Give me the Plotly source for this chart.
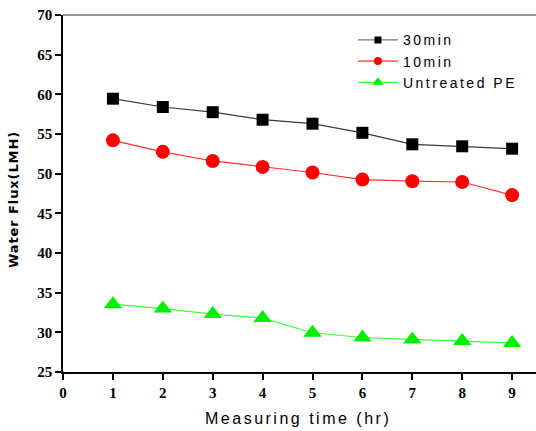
import plotly.graph_objects as go

hours = [1, 2, 3, 4, 5, 6, 7, 8, 9]
flux_30min = [59.45, 58.4, 57.75, 56.8, 56.3, 55.15, 53.7, 53.45, 53.15]
flux_10min = [54.2, 52.75, 51.6, 50.85, 50.15, 49.25, 49.05, 48.95, 47.3]
flux_untreated = [33.55, 33.0, 32.3, 31.8, 29.95, 29.35, 29.1, 28.9, 28.65]
series_names = ["30min", "10min", "Untreated PE"]
x_ticks = [0, 1, 2, 3, 4, 5, 6, 7, 8, 9]
y_ticks = [25, 30, 35, 40, 45, 50, 55, 60, 65, 70]

W, H = 536, 431
L, R, T, B = 63, 0, 15, 59


def spaced(s, px):
    return '<span style="letter-spacing:%spx">%s</span>' % (px, s)


styles = [
    dict(line="#3a3a3a", sym="square", size=12, legsize=7, color="black", legline="#777777"),
    dict(line="#ff3030", sym="circle", size=14, legsize=8, color="#ff0000", legline="#ff3030"),
    dict(line="#40ff40", sym="triangle-up", size=16, legsize=10, color="#00ee00", legline="#40ff40"),
]
values = [flux_30min, flux_10min, flux_untreated]

fig = go.Figure()
for name, vals, st in zip(series_names, values, styles):
    fig.add_trace(go.Scatter(
        x=hours, y=vals, name=name, mode="lines+markers", showlegend=False,
        line=dict(color=st["line"], width=1.2),
        marker=dict(symbol=st["sym"], size=st["size"], color=st["color"]),
    ))
for name, st in zip(series_names, styles):
    fig.add_trace(go.Scatter(
        x=[None], y=[None], name=spaced(name, 2.5), mode="lines+markers",
        line=dict(color=st["legline"], width=1.2),
        marker=dict(symbol=st["sym"], size=st["legsize"], color=st["color"]),
    ))

tick_font = dict(family="Liberation Serif", size=15, color="black", weight="bold")

fig.update_layout(
    width=W, height=H,
    margin=dict(l=L, r=R, t=T, b=B, autoexpand=False),
    plot_bgcolor="white", paper_bgcolor="white",
    showlegend=True,
    legend=dict(
        x=0.613, y=0.974, xanchor="left", yanchor="top",
        font=dict(family="Liberation Sans", size=14, color="black"),
        bgcolor="rgba(0,0,0,0)", itemwidth=40, tracegroupgap=0,
    ),
    xaxis=dict(
        range=[0, (W - L - R) / 49.9], tickmode="array", tickvals=x_ticks,
        ticks="outside", ticklen=6, tickwidth=1.5, tickcolor="black",
        showline=True, linecolor="black", linewidth=1.5, automargin=False,
        showgrid=False, zeroline=False, tickfont=tick_font,
    ),
    yaxis=dict(
        range=[25, 70], tickmode="array", tickvals=y_ticks,
        ticks="outside", ticklen=6, tickwidth=1.5, tickcolor="black",
        showline=True, linecolor="black", linewidth=1.5, automargin=False,
        showgrid=False, zeroline=False, tickfont=tick_font,
    ),
    shapes=[dict(type="line", xref="paper", yref="paper", x0=0, x1=1, y0=1, y1=1,
                 line=dict(color="#777777", width=1.5))],
    annotations=[
        dict(text=spaced("Measuring time (hr)", 2.5),
             xref="paper", yref="paper", x=(298 - L) / (W - L - R), y=-(418 - (H - B)) / (H - T - B),
             xanchor="center", yanchor="middle", showarrow=False,
             font=dict(family="Liberation Sans", size=16, color="black")),
        dict(text=spaced("Water Flux(LMH)", 0.9), textangle=-90,
             xref="paper", yref="paper", x=-(L - 14) / (W - L - R), y=((H - B) - 200) / (H - T - B),
             xanchor="center", yanchor="middle", showarrow=False,
             font=dict(family="DejaVu Sans", size=13, color="black", weight="bold")),
    ],
)

fig.write_html(
    "out.html",
    config={"displayModeBar": False},
    post_script="document.body.style.margin='0px';document.body.style.overflow='hidden';",
)
